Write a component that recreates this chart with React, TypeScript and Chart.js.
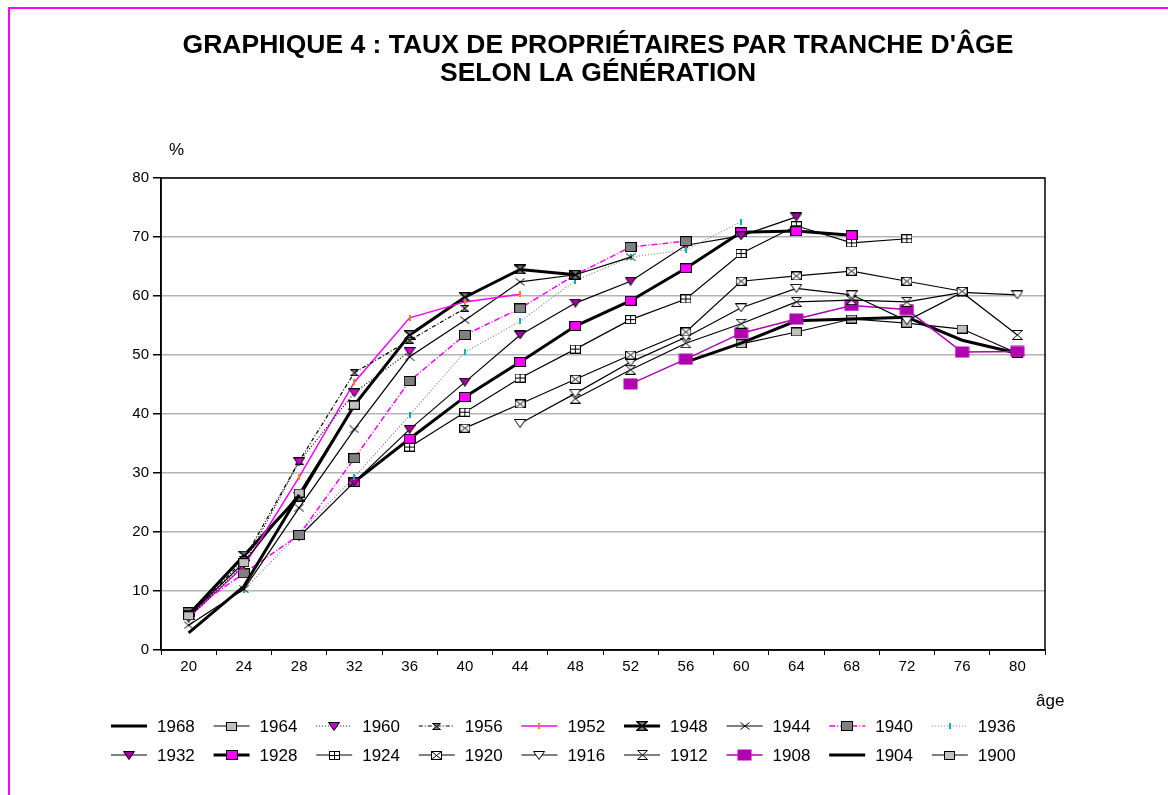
import React, { useEffect, useRef } from 'react';
import { Chart, registerables } from 'chart.js';

Chart.register(...registerables);

const N = null;
const AGES = ['20', '24', '28', '32', '36', '40', '44', '48', '52', '56', '60', '64', '68', '72', '76', '80'];
const Y_TICKS = [0, 10, 20, 30, 40, 50, 60, 70, 80];
const TITLE_LINES = ["GRAPHIQUE 4 : TAUX DE PROPRIÉTAIRES PAR TRANCHE D'ÂGE", 'SELON LA GÉNÉRATION'];

const G1968 = [2.9, 10.8, 26.3, N, N, N, N, N, N, N, N, N, N, N, N, N];
const G1964 = [5.8, 14.8, 26.6, 41.5, N, N, N, N, N, N, N, N, N, N, N, N];
const G1960 = [5.4, 14.5, 31.9, 43.6, 50.6, N, N, N, N, N, N, N, N, N, N, N];
const G1956 = [5.6, 15.3, 32.0, 47.0, 52.5, 57.9, N, N, N, N, N, N, N, N, N, N];
const G1952 = [5.5, 14.2, 29.3, 45.4, 56.3, 59.0, 60.3, N, N, N, N, N, N, N, N, N];
const G1948 = [6.0, 16.0, 26.0, 41.5, 53.4, 59.8, 64.5, 63.6, N, N, N, N, N, N, N, N];
const G1944 = [4.2, 10.3, 24.1, 37.4, 49.7, 55.9, 62.4, 63.6, 66.6, N, N, N, N, N, N, N];
const G1940 = [6.4, 13.0, 19.5, 32.5, 45.6, 53.4, 57.9, 63.6, 68.3, 69.3, N, N, N, N, N, N];
const G1936 = [N, 10.2, 19.8, 29.3, 39.8, 50.5, 55.7, 62.6, 66.6, 67.8, 72.6, N, N, N, N, N];
const G1932 = [N, N, 19.2, 28.5, 37.4, 45.4, 53.4, 58.8, 62.5, 68.6, 70.2, 73.4, N, N, N, N];
const G1928 = [N, N, N, 28.5, 35.8, 42.9, 48.8, 54.9, 59.2, 64.7, 70.8, 71.0, 70.3, N, N, N];
const G1924 = [N, N, N, N, 34.4, 40.3, 46.1, 51.0, 56.0, 59.5, 67.2, 71.9, 69.0, 69.7, N, N];
const G1920 = [N, N, N, N, N, 37.6, 41.7, 45.9, 50.0, 53.9, 62.5, 63.4, 64.2, 62.5, 60.8, N];
const G1916 = [N, N, N, N, N, N, 38.4, 43.5, 48.8, 53.0, 58.0, 61.3, 60.2, 55.8, 60.6, 60.2];
const G1912 = [N, N, N, N, N, N, N, 42.6, 47.5, 52.0, 55.3, 59.0, 59.3, 59.0, 60.6, 53.4];
const G1908 = [N, N, N, N, N, N, N, N, 45.1, 49.3, 53.7, 56.1, 58.4, 57.7, 50.5, 50.6];
const G1904 = [N, N, N, N, N, N, N, N, N, 48.8, 52.0, 55.8, 56.1, 56.4, 52.5, 50.3];
const G1900 = [N, N, N, N, N, N, N, N, N, N, 51.9, 53.9, 56.1, 55.4, 54.4, 50.3];

const FONT = '"Liberation Sans", Arial, sans-serif';

function mk(w: number, h: number, draw: (c: CanvasRenderingContext2D, w: number, h: number) => void) {
  const c = document.createElement('canvas');
  c.width = w;
  c.height = h;
  const x = c.getContext('2d') as CanvasRenderingContext2D;
  draw(x, w, h);
  return c;
}

function square(fill: string, w = 11, h = 9, stroke = '#000') {
  return mk(w, h, (x, W, H) => {
    x.fillStyle = fill;
    x.fillRect(0.5, 0.5, W - 1, H - 1);
    if (stroke) {
      x.strokeStyle = stroke;
      x.lineWidth = 1;
      x.strokeRect(0.5, 0.5, W - 1, H - 1);
    }
  });
}

function triDown(fill: string, w = 12, h = 9) {
  return mk(w, h, (x, W, H) => {
    x.beginPath();
    x.moveTo(0.5, 0.5);
    x.lineTo(W - 0.5, 0.5);
    x.lineTo(W / 2, H - 0.5);
    x.closePath();
    x.fillStyle = fill;
    x.fill();
    x.strokeStyle = '#000';
    x.lineWidth = 1;
    x.stroke();
  });
}

function hourglass(fill: string, w = 11, h = 10, lw = 1) {
  return mk(w, h, (x, W, H) => {
    x.beginPath();
    x.moveTo(0.5, 0.5);
    x.lineTo(W - 0.5, 0.5);
    x.lineTo(0.5, H - 0.5);
    x.lineTo(W - 0.5, H - 0.5);
    x.closePath();
    x.fillStyle = fill;
    x.fill();
    x.strokeStyle = '#000';
    x.lineWidth = lw;
    x.stroke();
  });
}

function boxPlus(w = 11, h = 9) {
  return mk(w, h, (x, W, H) => {
    x.fillStyle = '#fff';
    x.fillRect(0.5, 0.5, W - 1, H - 1);
    x.strokeStyle = '#000';
    x.lineWidth = 1;
    x.strokeRect(0.5, 0.5, W - 1, H - 1);
    x.beginPath();
    x.moveTo(Math.floor(W / 2) + 0.5, 0);
    x.lineTo(Math.floor(W / 2) + 0.5, H);
    x.moveTo(0, Math.floor(H / 2) + 0.5);
    x.lineTo(W, Math.floor(H / 2) + 0.5);
    x.stroke();
  });
}

function boxX(w = 11, h = 9) {
  return mk(w, h, (x, W, H) => {
    x.fillStyle = '#fff';
    x.fillRect(0.5, 0.5, W - 1, H - 1);
    x.strokeStyle = '#000';
    x.lineWidth = 1;
    x.strokeRect(0.5, 0.5, W - 1, H - 1);
    x.beginPath();
    x.moveTo(0.5, 0.5);
    x.lineTo(W - 0.5, H - 0.5);
    x.moveTo(W - 0.5, 0.5);
    x.lineTo(0.5, H - 0.5);
    x.stroke();
  });
}

function cross(w = 10, h = 8) {
  return mk(w, h, (x, W, H) => {
    x.strokeStyle = '#000';
    x.lineWidth = 1;
    x.beginPath();
    x.moveTo(0.5, 0.5);
    x.lineTo(W - 0.5, H - 0.5);
    x.moveTo(W - 0.5, 0.5);
    x.lineTo(0.5, H - 0.5);
    x.stroke();
  });
}

function tick(color: string, w = 2, h = 6) {
  return mk(w, h, (x, W, H) => {
    x.fillStyle = color;
    x.fillRect(0, 0, W, H);
  });
}

type Style = {
  label: string;
  data: (number | null)[];
  color: string;
  width: number;
  dash?: number[];
  marker?: HTMLCanvasElement;
};

export default function App() {
  const ref = useRef<HTMLCanvasElement | null>(null);

  useEffect(() => {
    document.body.style.margin = '0';
    const styles: Style[] = [
      { label: '1968', data: G1968, color: '#000', width: 3 },
      { label: '1964', data: G1964, color: '#000', width: 1.2, marker: square('#c0c0c0') },
      { label: '1960', data: G1960, color: '#000', width: 1.2, dash: [1, 2], marker: triDown('#cc00cc') },
      { label: '1956', data: G1956, color: '#000', width: 1.2, dash: [4, 2, 1, 2], marker: hourglass('#808080', 9, 7) },
      { label: '1952', data: G1952, color: '#ff00ff', width: 1.5, marker: tick('#ff8000') },
      { label: '1948', data: G1948, color: '#000', width: 3, marker: hourglass('#808080', 12, 10, 1.5) },
      { label: '1944', data: G1944, color: '#000', width: 1.2, marker: cross() },
      { label: '1940', data: G1940, color: '#ff00ff', width: 1.5, dash: [6, 2, 1, 2], marker: square('#808080', 12, 10) },
      { label: '1936', data: G1936, color: '#808080', width: 1.2, dash: [1, 2], marker: tick('#00b0c0') },
      { label: '1932', data: G1932, color: '#000', width: 1.2, marker: triDown('#a000a0') },
      { label: '1928', data: G1928, color: '#000', width: 3, marker: square('#ff00ff', 12, 10) },
      { label: '1924', data: G1924, color: '#000', width: 1.2, marker: boxPlus() },
      { label: '1920', data: G1920, color: '#000', width: 1.2, marker: boxX() },
      { label: '1916', data: G1916, color: '#000', width: 1.2, marker: triDown('#ffffff') },
      { label: '1912', data: G1912, color: '#000', width: 1.2, marker: hourglass('#ffffff', 11, 10) },
      { label: '1908', data: G1908, color: '#b000b0', width: 1.5, marker: square('#b000b0', 15, 12, '') },
      { label: '1904', data: G1904, color: '#000', width: 3 },
      { label: '1900', data: G1900, color: '#000', width: 1.2, marker: square('#c0c0c0') },
    ];

    const decor = {
      id: 'decor',
      beforeDatasetsDraw(chart: any) {
        const { ctx, chartArea: a } = chart;
        ctx.save();
        ctx.strokeStyle = '#000';
        ctx.lineWidth = 1.5;
        ctx.strokeRect(a.left, a.top, a.right - a.left, a.bottom - a.top);
        ctx.restore();
      },
      afterDraw(chart: any) {
        const ctx = chart.ctx as CanvasRenderingContext2D;
        ctx.save();
        // magenta frame
        ctx.strokeStyle = '#ff00ff';
        ctx.lineWidth = 2;
        ctx.beginPath();
        ctx.moveTo(9, 795);
        ctx.lineTo(9, 8);
        ctx.lineTo(1168, 8);
        ctx.stroke();
        // title
        ctx.fillStyle = '#000';
        ctx.textAlign = 'center';
        ctx.textBaseline = 'middle';
        ctx.font = `bold 26.5px ${FONT}`;
        ctx.fillText(TITLE_LINES[0], 598, 46);
        ctx.fillText(TITLE_LINES[1], 598, 74);
        // axis titles
        ctx.font = `17px ${FONT}`;
        ctx.textAlign = 'left';
        ctx.fillText('%', 169, 150);
        ctx.fillText('âge', 1036, 701);
        // legend
        ctx.font = `17px ${FONT}`;
        styles.forEach((s, i) => {
          const row = i < 9 ? 0 : 1;
          const col = i % 9;
          const tx = 157 + col * 102.6;
          const y = row === 0 ? 726 : 755;
          ctx.save();
          ctx.strokeStyle = s.color;
          ctx.lineWidth = s.width;
          ctx.setLineDash(s.dash || []);
          ctx.beginPath();
          ctx.moveTo(tx - 46, y);
          ctx.lineTo(tx - 10, y);
          ctx.stroke();
          ctx.restore();
          if (s.marker) {
            const m = s.marker;
            ctx.drawImage(m, Math.round(tx - 28 - m.width / 2), Math.round(y - m.height / 2));
          }
          ctx.fillStyle = '#000';
          ctx.textAlign = 'left';
          ctx.textBaseline = 'middle';
          ctx.fillText(s.label, tx, y + 1);
        });
        ctx.restore();
      },
    };

    const chart = new Chart(ref.current as HTMLCanvasElement, {
      type: 'line',
      data: {
        labels: AGES,
        datasets: styles.map((s) => ({
          label: s.label,
          data: s.data,
          borderColor: s.color,
          borderWidth: s.width,
          borderDash: s.dash || [],
          pointStyle: (s.marker || 'circle') as any,
          pointRadius: s.marker ? 5 : 0,
          pointHoverRadius: s.marker ? 5 : 0,
          tension: 0,
          spanGaps: false,
          fill: false,
        })),
      },
      options: {
        responsive: false,
        animation: false,
        events: [],
        layout: { padding: { left: 121, top: 178, right: 123, bottom: 105 } },
        plugins: { legend: { display: false }, title: { display: false }, tooltip: { enabled: false } },
        scales: {
          x: {
            type: 'category',
            offset: true,
            afterFit: (scale: any) => {
              scale.height = 40;
            },
            grid: { display: true, drawOnChartArea: false, drawTicks: true, tickLength: 5, color: '#000', offset: true },
            border: { color: '#000', width: 1.5 },
            ticks: { color: '#000', font: { family: FONT, size: 15 }, padding: 3, maxRotation: 0, autoSkip: false },
          },
          y: {
            min: Y_TICKS[0],
            max: Y_TICKS[Y_TICKS.length - 1],
            afterFit: (scale: any) => {
              scale.width = 40;
            },
            afterBuildTicks: (scale: any) => {
              scale.ticks = Y_TICKS.map((v) => ({ value: v }));
            },
            grid: { color: '#b4b4b4', lineWidth: 1.5, tickColor: '#000', tickLength: 8 },
            border: { color: '#000', width: 1.5 },
            ticks: { color: '#000', font: { family: FONT, size: 15 }, padding: 4 },
          },
        },
      },
      plugins: [decor],
    });
    return () => chart.destroy();
  }, []);

  return (
    <div style={{ width: 1168, height: 795, background: '#fff' }}>
      <canvas ref={ref} width={1168} height={795} style={{ display: 'block', width: 1168, height: 795 }} />
    </div>
  );
}
